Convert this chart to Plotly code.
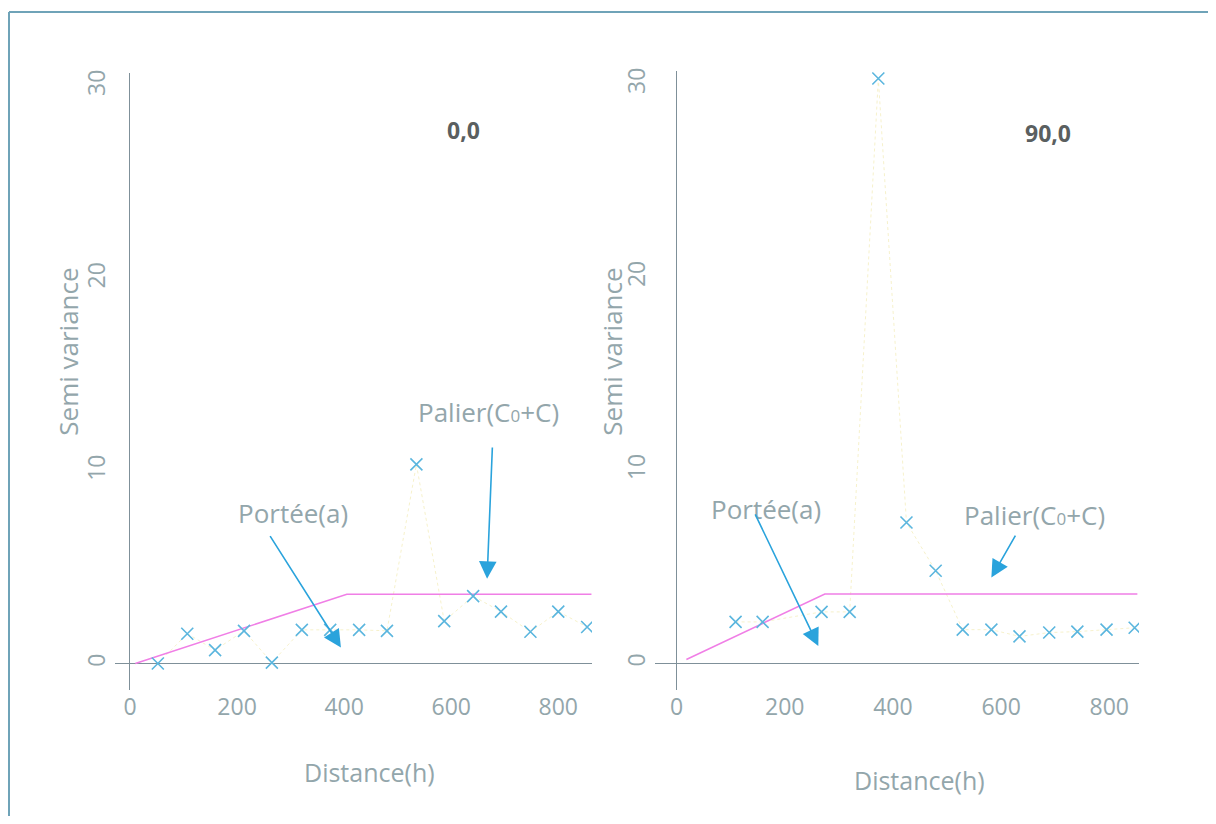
import plotly.graph_objects as go

# ---- data ----
lag_0 = [52, 107, 159, 213, 265, 321, 374, 428, 480, 535, 587, 641, 693, 748, 800, 854]
gamma_0 = [0.0, 1.55, 0.7, 1.7, 0.05, 1.75, 1.75, 1.75, 1.7, 10.35, 2.2, 3.5, 2.7, 1.65, 2.7, 1.9]
model_x_0 = [10, 405, 862]
model_y_0 = [0.0, 3.6, 3.6]

lag_90 = [109, 159, 268, 320, 373, 425, 479, 529, 582, 634, 689, 741, 795, 847]
gamma_90 = [2.15, 2.15, 2.67, 2.67, 30.3, 7.3, 4.8, 1.75, 1.75, 1.4, 1.6, 1.65, 1.75, 1.85]
model_x_90 = [18, 274, 852]
model_y_90 = [0.2, 3.6, 3.6]

x_ticks = [0, 200, 400, 600, 800]
y_ticks = [0, 10, 20, 30]
titles = ["0,0", "90,0"]

OFF = 8  # page body margin
W, H = 1216 - OFF, 824 - 2 * OFF
FONT = "Open Sans"
TXT = "#93a6ab"
MARK = "#5bb6de"
PINK = "#f07fe6"
ARROW = "#2aa3dc"

def px(x):
    return (x - OFF) / W

def py(y):
    return 1 - (y - OFF) / H

fig = go.Figure()

# left
fig.add_trace(go.Scatter(x=lag_0, y=gamma_0, mode="lines", line=dict(color="rgba(235,225,140,0.45)", width=1, dash="dot"),
                         xaxis="x", yaxis="y", hoverinfo="skip", showlegend=False))
fig.add_trace(go.Scatter(x=model_x_0, y=model_y_0, mode="lines", line=dict(color=PINK, width=1.6),
                         xaxis="x", yaxis="y", showlegend=False))
fig.add_trace(go.Scatter(x=lag_0, y=gamma_0, mode="markers",
                         marker=dict(symbol="x-thin", size=12, line=dict(color=MARK, width=1.6)),
                         xaxis="x", yaxis="y", showlegend=False))
# right
fig.add_trace(go.Scatter(x=lag_90, y=gamma_90, mode="lines", line=dict(color="rgba(235,225,140,0.45)", width=1, dash="dot"),
                         xaxis="x2", yaxis="y2", hoverinfo="skip", showlegend=False))
fig.add_trace(go.Scatter(x=model_x_90, y=model_y_90, mode="lines", line=dict(color=PINK, width=1.6),
                         xaxis="x2", yaxis="y2", showlegend=False))
fig.add_trace(go.Scatter(x=lag_90, y=gamma_90, mode="markers",
                         marker=dict(symbol="x-thin", size=12, line=dict(color=MARK, width=1.6)),
                         xaxis="x2", yaxis="y2", showlegend=False))

axcommon = dict(showgrid=False, showline=False, zeroline=True, zerolinecolor="#7f9099", zerolinewidth=1,
                ticks="", tickfont=dict(family=FONT, size=23, color=TXT))

fig.update_layout(
    width=W, height=H,
    margin=dict(l=0, r=0, t=0, b=0),
    paper_bgcolor="white", plot_bgcolor="white",
    font=dict(family=FONT, color=TXT),
    xaxis=dict(domain=[px(115), px(592)], range=[-28, 863], tickvals=x_ticks, anchor="y",
               ticklabelstandoff=1, **axcommon),
    yaxis=dict(domain=[py(690), py(70)], range=[-1.4, 30.7], tickvals=y_ticks, anchor="x",
               tickangle=-90, ticklabelstandoff=4, **axcommon),
    xaxis2=dict(domain=[px(655), px(1139)], range=[-40, 855], tickvals=x_ticks, anchor="y2",
                ticklabelstandoff=1, **axcommon),
    yaxis2=dict(domain=[py(690), py(68)], range=[-1.4, 30.7], tickvals=y_ticks, anchor="x2",
                tickangle=-90, ticklabelstandoff=4, **axcommon),
)

ann = []
C = dict(xanchor="center", yanchor="middle", showarrow=False)
# titles
ann.append(dict(text="<b>%s</b>" % titles[0], x=px(463), y=py(127), xref="paper", yref="paper",
                font=dict(family=FONT, size=23, color="#5a5f60"), **C))
ann.append(dict(text="<b>%s</b>" % titles[1], x=px(1048), y=py(130), xref="paper", yref="paper",
                font=dict(family=FONT, size=23, color="#5a5f60"), **C))
# axis titles
for xc, yc in [(68, 350), (612, 350)]:
    ann.append(dict(text="Semi variance", x=px(xc), y=py(yc), xref="paper", yref="paper", textangle=-90,
                    font=dict(family=FONT, size=26, color=TXT), **C))
for xc, yc in [(370, 772), (919, 780)]:
    ann.append(dict(text="Distance(h)", x=px(xc), y=py(yc), xref="paper", yref="paper",
                    font=dict(family=FONT, size=25, color=TXT), **C))
# labels
pal = "Palier(C<span style='font-size:17px'>0</span>+C)"
ann.append(dict(text="Portée(a)", x=305, y=7.8, xref="x", yref="y",
                font=dict(family=FONT, size=26, color=TXT), **C))
ann.append(dict(text=pal, x=669, y=13.05, xref="x", yref="y",
                font=dict(family=FONT, size=26, color=TXT), **C))
ann.append(dict(text="Portée(a)", x=166, y=8.0, xref="x2", yref="y2",
                font=dict(family=FONT, size=26, color=TXT), **C))
ann.append(dict(text=pal, x=662, y=7.7, xref="x2", yref="y2",
                font=dict(family=FONT, size=26, color=TXT), **C))
# arrows
arrows = [
    ("x", "y", 677, 11.3, 667, 4.4),
    ("x", "y", 260, 6.7, 394, 0.83),
    ("x2", "y2", 144, 7.8, 262, 0.9),
    ("x2", "y2", 628, 6.7, 582, 4.45),
]
for xr, yr, tx, ty, hx, hy in arrows:
    ann.append(dict(text="", x=hx, y=hy, ax=tx, ay=ty, xref=xr, yref=yr, axref=xr, ayref=yr,
                    showarrow=True, arrowhead=2, arrowsize=2.2, arrowwidth=1.6, arrowcolor=ARROW))
fig.update_layout(annotations=ann)

# frame
FR = dict(color="#6fa3b8", width=2)
fig.add_shape(type="line", xref="paper", yref="paper", x0=px(9), y0=0, x1=px(9), y1=py(9), line=FR)
fig.add_shape(type="line", xref="paper", yref="paper", x0=px(9), y0=py(9), x1=px(1213), y1=py(9), line=FR)
fig.add_shape(type="line", xref="paper", yref="paper", x0=px(1213), y0=py(9), x1=px(1213), y1=0, line=FR)

fig.write_html("out.html")
